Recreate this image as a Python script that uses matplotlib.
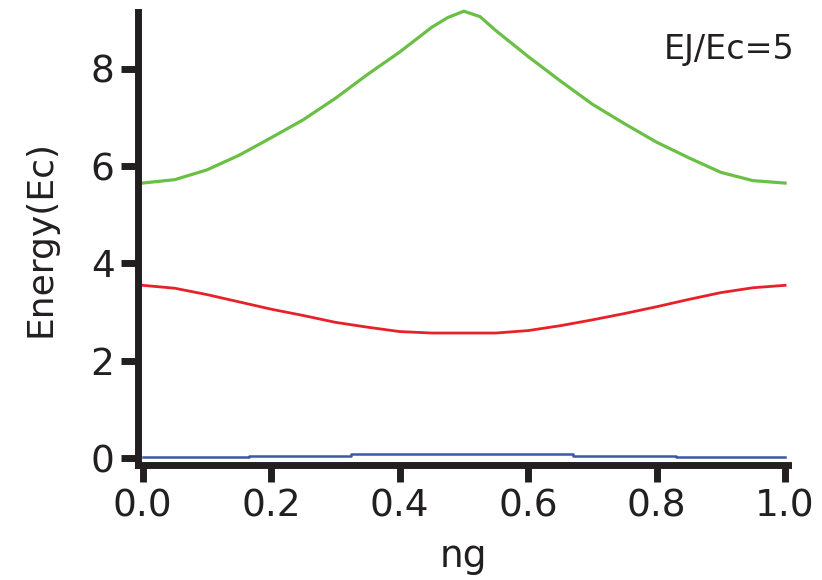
import matplotlib
matplotlib.use("Agg")
import matplotlib.pyplot as plt

# data
ng = [0.0, 0.05, 0.1, 0.15, 0.2, 0.25, 0.3, 0.35, 0.4, 0.45, 0.475, 0.5,
      0.525, 0.55, 0.6, 0.65, 0.7, 0.75, 0.8, 0.85, 0.9, 0.95, 1.0]
e2 = [5.65, 5.72, 5.92, 6.22, 6.58, 6.95, 7.39, 7.88, 8.34, 8.85, 9.05, 9.18,
      9.07, 8.78, 8.25, 7.75, 7.27, 6.87, 6.49, 6.17, 5.87, 5.70, 5.65]
e1 = [3.55, 3.49, 3.36, 3.21, 3.06, 2.93, 2.79, 2.69, 2.60, 2.57, 2.57, 2.57,
      2.57, 2.57, 2.62, 2.72, 2.84, 2.97, 3.11, 3.26, 3.40, 3.50, 3.55]
ng0 = [0.0, 0.165, 0.325, 0.67, 0.83, 1.0]
e0 = [0.02, 0.05, 0.085, 0.05, 0.02, 0.02]

xticks = [0.0, 0.2, 0.4, 0.6, 0.8, 1.0]
yticks = [0, 2, 4, 6, 8]

ink = '#231f20'
plt.rcParams['font.family'] = ['DejaVu Sans']

fig = plt.figure(figsize=(8.22, 5.8), dpi=100)
ax = fig.add_axes([0.168, 0.198, 0.791, 0.781])

ax.plot(ng, e2, color='#6abf45', lw=2.3, clip_on=False)
ax.plot(ng, e1, color='#e8202a', lw=2.0, clip_on=False)
ax.plot(ng0, e0, color='#3a57a8', lw=1.8, drawstyle='steps-post', clip_on=False)

ax.set_xlim(-0.007, 1.005)
ax.set_ylim(-0.144, 9.16)
ax.set_xticks(xticks)
ax.set_xticklabels(['%.1f' % t for t in xticks])
ax.set_yticks(yticks)

for s in ['top', 'right']:
    ax.spines[s].set_visible(False)
for s in ['left', 'bottom']:
    ax.spines[s].set_linewidth(5)
    ax.spines[s].set_color(ink)

ax.tick_params(direction='out', length=12, width=5, color=ink,
               labelsize=27, labelcolor=ink, pad=5)

ax.set_xlabel('ng', fontsize=27, color=ink, labelpad=10)
ax.set_ylabel('Energy(Ec)', fontsize=26, color=ink, labelpad=24)
ax.text(1.01, 0.955, 'EJ/Ec=5', transform=ax.transAxes, ha='right', va='top',
        fontsize=24, color=ink)

fig.savefig('out.png', dpi=100)
